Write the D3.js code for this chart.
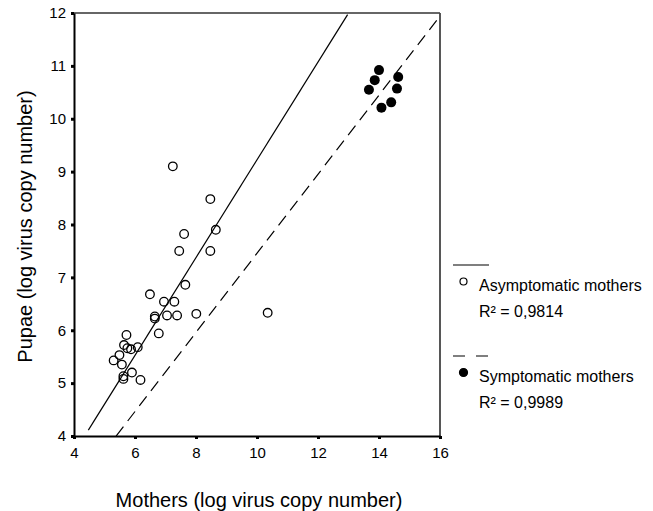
<!DOCTYPE html>
<html>
<head>
<meta charset="utf-8" />
<title>Pupae vs mothers</title>
<style>
body { margin: 0; background: #fff; }
#graph { width: 653px; height: 511px; }
text { font-family: "Liberation Sans", Arial, sans-serif; fill: #000; }
.axis text { font-size: 15px; }
.axis .domain { stroke: #000; stroke-width: 2; }
.axis .tick line { stroke: #000; stroke-width: 3; }
.title { font-size: 20px; }
.legend text { font-size: 16px; }
</style>
</head>
<body>
<div id="graph"></div>

<script src="https://cdnjs.cloudflare.com/ajax/libs/d3/7.8.5/d3.min.js"></script>
<script>
// asymptomatic mothers (open circles)
var asymX = [7.24, 8.47, 8.65, 7.61, 7.45, 8.47, 7.65, 6.49, 6.95, 7.29, 6.65, 6.65, 7.05, 7.38, 8.01,
             10.35, 6.78, 5.72, 5.64, 5.75, 5.87, 6.09, 5.49, 5.30, 5.57, 5.90, 5.62, 5.62, 6.18]
var asymY = [9.10, 8.48, 7.90, 7.82, 7.50, 7.50, 6.86, 6.68, 6.54, 6.54, 6.26, 6.22, 6.28, 6.28, 6.31,
             6.33, 5.94, 5.91, 5.72, 5.66, 5.64, 5.68, 5.53, 5.43, 5.35, 5.20, 5.13, 5.08, 5.06]

// symptomatic mothers (filled circles)
var symX = [14.00, 13.86, 13.67, 14.63, 14.59, 14.40, 14.08]
var symY = [10.92, 10.73, 10.55, 10.79, 10.57, 10.31, 10.21]

// regression lines: slope, intercept, x range drawn
var asymFit = {slope: 0.9247, intercept: -0.0235, from: 4.47, to: 12.97}
var symFit = {slope: 0.748, intercept: -0.025, from: 5.38, to: 15.94}

var xTicks = [4, 6, 8, 10, 12, 14, 16]
var yTicks = [4, 5, 6, 7, 8, 9, 10, 11, 12]

var legendLabels = ["Asymptomatic mothers", "Symptomatic mothers"]
var legendR2 = ["0,9814", "0,9989"]

!(function(){
    "use strict"

    var width = 653, height = 511
    var margin = {top: 13, left: 74, bottom: 75, right: 213}
    var chartWidth = width - margin.left - margin.right
    var chartHeight = height - margin.top - margin.bottom

    var svg = d3.select("#graph").append("svg")
        .attr("width", width).attr("height", height)

    var chart = svg.append("g")
        .attr("transform", "translate(" + [margin.left, margin.top] + ")")

    var xScale = d3.scaleLinear().domain([4, 16]).range([0, chartWidth])
    var yScale = d3.scaleLinear().domain([4, 12]).range([chartHeight, 0])

    // frame top / right
    chart.append("line")
        .attr("x1", 0).attr("x2", chartWidth).attr("y1", 0).attr("y2", 0)
        .attr("stroke", "#333").attr("stroke-width", 1.5)
    chart.append("line")
        .attr("x1", chartWidth).attr("x2", chartWidth).attr("y1", 0).attr("y2", chartHeight)
        .attr("stroke", "#444").attr("stroke-width", 1.8)

    var xAxis = d3.axisBottom(xScale).tickValues(xTicks).tickSize(3).tickSizeOuter(0).tickPadding(8)
    var yAxis = d3.axisLeft(yScale).tickValues(yTicks).tickSize(3).tickSizeOuter(0).tickPadding(5)

    chart.append("g").attr("class", "axis x")
        .attr("transform", "translate(0," + chartHeight + ")")
        .call(xAxis)
    chart.append("g").attr("class", "axis y")
        .call(yAxis)

    // fit lines
    var line = d3.line()
        .x(function(d){ return xScale(d[0]) })
        .y(function(d){ return yScale(d[1]) })

    function fitPoints(f) {
        return [f.from, f.to].map(function(x){ return [x, f.slope * x + f.intercept] })
    }

    chart.append("path")
        .attr("d", line(fitPoints(asymFit)))
        .attr("fill", "none").attr("stroke", "#000").attr("stroke-width", 1.2)
    chart.append("path")
        .attr("d", line(fitPoints(symFit)))
        .attr("fill", "none").attr("stroke", "#000").attr("stroke-width", 1.2)
        .attr("stroke-dasharray", "12,7")

    // points
    chart.selectAll(".asym").data(d3.range(asymX.length)).enter()
        .append("circle").attr("class", "asym")
        .attr("cx", function(i){ return xScale(asymX[i]) })
        .attr("cy", function(i){ return yScale(asymY[i]) })
        .attr("r", 4.3)
        .attr("fill", "none").attr("stroke", "#000").attr("stroke-width", 1.3)

    chart.selectAll(".sym").data(d3.range(symX.length)).enter()
        .append("circle").attr("class", "sym")
        .attr("cx", function(i){ return xScale(symX[i]) })
        .attr("cy", function(i){ return yScale(symY[i]) })
        .attr("r", 5)
        .attr("fill", "#000")

    // axis titles
    svg.append("text").attr("class", "title")
        .attr("x", margin.left + chartWidth / 2 + 2).attr("y", 507)
        .attr("text-anchor", "middle")
        .text("Mothers (log virus copy number)")

    svg.append("text").attr("class", "title")
        .attr("transform", "translate(32," + (margin.top + chartHeight / 2 + 2) + ") rotate(-90)")
        .attr("text-anchor", "middle")
        .text("Pupae (log virus copy number)")

    // legend
    var legend = svg.append("g").attr("class", "legend")
    var groups = legend.selectAll("g").data(legendLabels).enter()
        .append("g")
        .attr("transform", function(d, i){ return "translate(0," + (265 + i * 91) + ")" })

    groups.append("line")
        .attr("x1", 453).attr("x2", 489).attr("y1", 0).attr("y2", 0)
        .attr("stroke", "#000").attr("stroke-width", 1.2)
        .attr("stroke-dasharray", function(d, i){ return i ? "12,11" : null })

    groups.append("circle")
        .attr("cx", 463.5).attr("cy", 16.5)
        .attr("r", function(d, i){ return i ? 4 : 3.5 })
        .attr("fill", function(d, i){ return i ? "#000" : "none" })
        .attr("stroke", "#000").attr("stroke-width", 1.2)

    groups.append("text")
        .attr("x", 479).attr("y", 25.7)
        .text(function(d){ return d })

    groups.append("text")
        .attr("x", 479).attr("y", 52)
        .text(function(d, i){ return "R\u00b2 = " + legendR2[i] })
}())
</script>
</body>
</html>
